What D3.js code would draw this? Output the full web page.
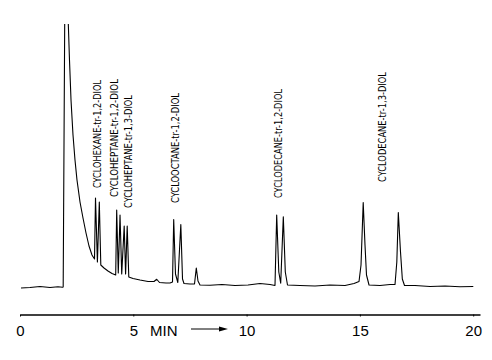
<!DOCTYPE html>
<html><head><meta charset="utf-8">
<script src="https://cdn.jsdelivr.net/npm/d3@7"></script>
<style>body{margin:0;background:#fff}svg{display:block}</style>
</head><body><svg id="c" width="492" height="360"></svg>
<script>
// Chromatogram trace: time (min) and detector signal (arbitrary units)
const traceTime = [0.044,0.441,0.883,1.324,1.677,1.876,1.906,1.986,2.132,2.184,2.251,2.339,2.427,2.515,2.648,2.780,2.913,3.045,3.177,3.288,3.332,3.416,3.500,3.566,3.707,3.883,4.060,4.223,4.267,4.337,4.414,4.489,4.598,4.660,4.731,4.801,4.987,5.296,5.649,5.914,6.033,6.156,6.443,6.620,6.730,6.783,6.862,6.964,7.097,7.172,7.237,7.502,7.701,7.780,7.855,7.943,8.385,8.914,9.488,10.062,10.591,11.033,11.253,11.328,11.421,11.505,11.620,11.708,11.805,12.357,13.019,13.681,14.343,14.740,14.961,15.049,15.146,15.225,15.291,15.402,15.887,16.329,16.549,16.629,16.695,16.792,16.872,16.969,17.432,18.094,18.756,19.417,20.004];
const traceSignal = [-0.4,-0.2,0.2,-0.2,0.1,-0.1,0,126.8,105.2,90.8,74.8,60.8,50.8,42.8,34.0,27.6,21.6,16.4,12.8,11.2,35.6,10.0,34.0,8.8,7.6,6.4,5.4,4.8,30.8,5.6,28.8,5.2,24.4,5.2,24.4,4.0,3.4,2.8,2.2,2.2,3.1,1.8,1.6,1.6,2.0,27.0,5.2,1.8,25.0,3.2,1.4,1.2,1.2,7.6,2.4,0.8,0.7,1.0,0.6,0.8,1.4,1.0,0.6,28.8,6.0,1.5,28.1,6.0,0.8,0.6,0.4,0.8,0.6,1.4,2.2,8.8,33.8,16.8,4.8,0.8,0.6,1.0,1.0,10.0,29.8,14.0,3.2,0.6,0.6,0.2,0.4,0.1,0.2];
// Labelled compounds and the retention times of their peak pairs (min)
const compounds = ["CYCLOHEXANE-tr-1,2-DIOL","CYCLOHEPTANE-tr-1,2-DIOL","CYCLOHEPTANE-tr-1,3-DIOL","CYCLOOCTANE-tr-1,2-DIOL","CYCLODECANE-tr-1,2-DIOL","CYCLODECANE-tr-1,3-DIOL"];
const compoundPeakTimes = [[3.33,3.50],[4.27,4.41],[4.60,4.73],[6.78,7.10],[11.33,11.62],[15.15,16.70]];
const tickValues = [0,5,10,15,20];
const axisLabel = "MIN";

const svg = d3.select("#c");
const x = d3.scaleLinear().domain([0,20.3]).range([20,480]);
const y = d3.scaleLinear().domain([0,100]).range([287,37]);

// label layout (pixel tweaks only)
const labelLayout = [
  {dx:0, bottom:188, len:108},
  {dx:-4.4, bottom:197, len:118},
  {dx:2.8, bottom:208, len:113},
  {dx:-2.3, bottom:203, len:110},
  {dx:-1.7, bottom:198, len:109},
  {dx:0.9, bottom:182, len:110}
];

svg.append("defs").append("clipPath").attr("id","clip")
  .append("rect").attr("x",0).attr("y",24).attr("width",492).attr("height",336);

const pts = traceTime.map((t,i)=>[t,traceSignal[i]]);
const line = d3.line().x(d=>x(d[0])).y(d=>y(d[1]));
svg.append("path").attr("d",line(pts)).attr("clip-path","url(#clip)")
  .attr("fill","none").attr("stroke","#000").attr("stroke-width",1.1).attr("stroke-linejoin","round");

// compound labels
compounds.forEach((name,i)=>{
  const mid = (compoundPeakTimes[i][0]+compoundPeakTimes[i][1])/2;
  const L = labelLayout[i];
  const cx = x(mid)+L.dx;
  svg.append("text")
    .attr("transform",`translate(${cx},${L.bottom}) rotate(-90)`)
    .attr("dy","0.36em")
    .attr("font-family","'DejaVu Sans Condensed','Liberation Sans Narrow',sans-serif")
    .attr("font-size",10.5)
    .attr("textLength",L.len).attr("lengthAdjust","spacingAndGlyphs")
    .attr("fill","#000")
    .text(name);
});

// axis
const gx = svg.append("g").attr("transform","translate(0,314.5)")
  .call(d3.axisBottom(x).tickValues(tickValues).tickSizeInner(2).tickSizeOuter(0).tickPadding(8.5).tickFormat(d3.format("d")));
gx.attr("font-family","'Liberation Sans',Arial,sans-serif").attr("font-size",15);
gx.select(".domain").attr("stroke","#000").attr("stroke-width",1.3);
gx.selectAll(".tick line").attr("stroke","#000");
gx.selectAll(".tick text").attr("fill","#000");

svg.append("text").attr("x",150).attr("y",336)
  .attr("font-family","'Liberation Sans',Arial,sans-serif").attr("font-size",15).attr("fill","#000")
  .text(axisLabel);
svg.append("line").attr("x1",191).attr("x2",221).attr("y1",329).attr("y2",329)
  .attr("stroke","#000").attr("stroke-width",1);
svg.append("path").attr("d","M219,326.6 L228,329 L219,331.4 Z").attr("fill","#000");
</script></body></html>
